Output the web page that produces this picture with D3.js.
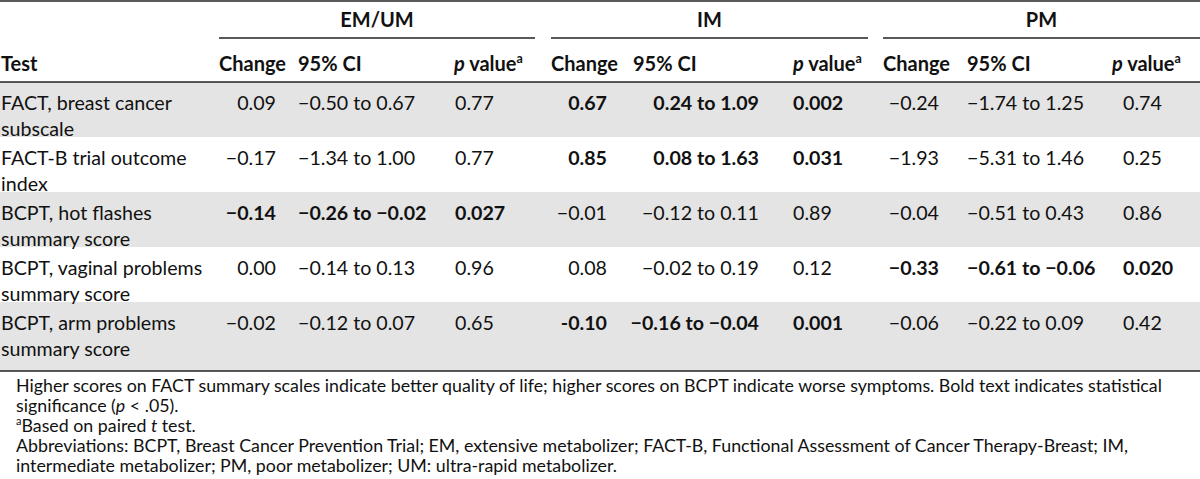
<!DOCTYPE html>
<html>
<head>
<meta charset="utf-8">
<script src="https://cdn.jsdelivr.net/npm/d3@7"></script>
<style>
  html, body { margin: 0; padding: 0; background: #fff; }
  svg { display: block; }
  text { font-family: Lato, "Noto Sans", sans-serif; fill: #111; }
</style>
</head>
<body>
<svg id="chart" width="1200" height="479"></svg>
<script>
// ---------- data ----------
const tests = [
  ["FACT, breast cancer", "subscale"],
  ["FACT-B trial outcome", "index"],
  ["BCPT, hot flashes", "summary score"],
  ["BCPT, vaginal problems", "summary score"],
  ["BCPT, arm problems", "summary score"]
];
const groups = ["EM/UM", "IM", "PM"];
const colHeaders = ["Change", "95% CI", "p value"];

const emChange = ["0.09", "−0.17", "−0.14", "0.00", "−0.02"];
const emCI     = ["−0.50 to 0.67", "−1.34 to 1.00", "−0.26 to −0.02", "−0.14 to 0.13", "−0.12 to 0.07"];
const emP      = ["0.77", "0.77", "0.027", "0.96", "0.65"];
const emBold   = [false, false, true, false, false];

const imChange = ["0.67", "0.85", "−0.01", "0.08", "-0.10"];
const imCI     = ["0.24 to 1.09", "0.08 to 1.63", "−0.12 to 0.11", "−0.02 to 0.19", "−0.16 to −0.04"];
const imP      = ["0.002", "0.031", "0.89", "0.12", "0.001"];
const imBold   = [true, true, false, false, true];

const pmChange = ["−0.24", "−1.93", "−0.04", "−0.33", "−0.06"];
const pmCI     = ["−1.74 to 1.25", "−5.31 to 1.46", "−0.51 to 0.43", "−0.61 to −0.06", "−0.22 to 0.09"];
const pmP      = ["0.74", "0.25", "0.86", "0.020", "0.42"];
const pmBold   = [false, false, false, true, false];

const footnotes = [
  [{t: "Higher scores on FACT summary scales indicate better quality of life; higher scores on BCPT indicate worse symptoms. Bold text indicates statistical"}],
  [{t: "significance ("}, {t: "p", i: true}, {t: " < .05)."}],
  [{t: "a", sup: true}, {t: "Based on paired "}, {t: "t", i: true}, {t: " test."}],
  [{t: "Abbreviations: BCPT, Breast Cancer Prevention Trial; EM, extensive metabolizer; FACT-B, Functional Assessment of Cancer Therapy-Breast; IM,"}],
  [{t: "intermediate metabolizer; PM, poor metabolizer; UM: ultra-rapid metabolizer."}]
];

// ---------- layout ----------
const svg = d3.select("#chart");
const W = 1200;

// calibrate font sizes to the reference text widths
function fitSize(str, weight, target) {
  const t = svg.append("text").attr("font-size", 100).attr("font-weight", weight).text(str);
  const w = t.node().getComputedTextLength();
  t.remove();
  return 100 * target / w;
}
const bodySize = fitSize("FACT, breast cancer", 400, 171);
const headSize = fitSize("Change", 700, 67);
const footSize = fitSize(footnotes[0][0].t, 400, 1147);

// row scale
const rowTops = [82, 137, 192, 247, 302];
const rowBottom = 371;
const y = d3.scaleOrdinal().domain(d3.range(tests.length)).range(rowTops);
const rowEnd = i => (i < tests.length - 1 ? rowTops[i + 1] : rowBottom);

// column spec per group: change (right anchored), CI, p
const groupCols = [
  {name: groups[0], change: emChange, ci: emCI, p: emP, bold: emBold,
   hx: [219, 298, 454], cx: 276, ciX: 298, ciAnchor: "start", pX: 455, line: [219, 535]},
  {name: groups[1], change: imChange, ci: imCI, p: imP, bold: imBold,
   hx: [551, 633, 793], cx: 607, ciX: 759, ciAnchor: "end", pX: 793, line: [551, 868]},
  {name: groups[2], change: pmChange, ci: pmCI, p: pmP, bold: pmBold,
   hx: [883, 967, 1112], cx: 939, ciX: 967, ciAnchor: "start", pX: 1123, line: [883, 1200]}
];

// row backgrounds
svg.selectAll("rect.row").data(tests).join("rect")
  .attr("class", "row")
  .attr("x", 0).attr("width", W)
  .attr("y", (d, i) => y(i))
  .attr("height", (d, i) => rowEnd(i) - y(i))
  .attr("fill", (d, i) => i % 2 === 0 ? "#e4e4e4" : "#ffffff");

// rules
const rule = (x1, x2, yy, w) => svg.append("line")
  .attr("x1", x1).attr("x2", x2).attr("y1", yy).attr("y2", yy)
  .attr("stroke", "#222").attr("stroke-width", w);
rule(0, W, 1, 1.6);
rule(0, W, 82, 1.6);
rule(0, W, rowBottom, 1.6);
groupCols.forEach(g => rule(g.line[0], g.line[1], 38, 1.4));

// group headers
svg.selectAll("text.group").data(groupCols).join("text")
  .attr("class", "group")
  .attr("x", d => (d.line[0] + d.line[1]) / 2)
  .attr("y", 27)
  .attr("text-anchor", "middle")
  .attr("font-weight", 700)
  .attr("font-size", headSize)
  .text(d => d.name);

// column headers
svg.append("text").attr("x", 1).attr("y", 71)
  .attr("font-weight", 700).attr("font-size", headSize).text("Test");
groupCols.forEach(g => {
  svg.append("text").attr("x", g.hx[0]).attr("y", 71)
    .attr("font-weight", 700).attr("font-size", headSize).text(colHeaders[0]);
  svg.append("text").attr("x", g.hx[1]).attr("y", 71)
    .attr("font-weight", 700).attr("font-size", headSize).text(colHeaders[1]);
  const pt = svg.append("text").attr("x", g.hx[2]).attr("y", 71)
    .attr("font-weight", 700).attr("font-size", headSize);
  pt.append("tspan").attr("font-style", "italic").text("p");
  pt.append("tspan").text(colHeaders[2].slice(1));
  pt.append("tspan").attr("font-size", headSize * 0.62).attr("dy", -8).text("a");
});

// test labels
const labels = svg.selectAll("text.label").data(tests).join("text")
  .attr("class", "label")
  .attr("font-size", bodySize);
labels.selectAll("tspan").data((d, i) => d.map(s => ({s, i}))).join("tspan")
  .attr("x", 1)
  .attr("y", (d, k) => y(d.i) + 28 + k * 25.5)
  .text(d => d.s);

// values
groupCols.forEach(g => {
  const base = i => y(i) + 28;
  svg.selectAll(null).data(g.change).join("text")
    .attr("x", g.cx).attr("y", (d, i) => base(i))
    .attr("text-anchor", "end")
    .attr("font-size", bodySize)
    .attr("font-weight", (d, i) => g.bold[i] ? 700 : 400)
    .text(d => d);
  svg.selectAll(null).data(g.ci).join("text")
    .attr("x", g.ciX).attr("y", (d, i) => base(i))
    .attr("text-anchor", g.ciAnchor)
    .attr("font-size", bodySize)
    .attr("font-weight", (d, i) => g.bold[i] ? 700 : 400)
    .text(d => d);
  svg.selectAll(null).data(g.p).join("text")
    .attr("x", g.pX).attr("y", (d, i) => base(i))
    .attr("font-size", bodySize)
    .attr("font-weight", (d, i) => g.bold[i] ? 700 : 400)
    .text(d => d);
});

// footnotes
const fn = svg.selectAll("text.fn").data(footnotes).join("text")
  .attr("class", "fn")
  .attr("x", 16)
  .attr("y", (d, i) => 392 + i * 20)
  .attr("font-size", footSize);
fn.selectAll("tspan").data(d => d).join("tspan")
  .attr("font-style", d => d.i ? "italic" : null)
  .attr("font-size", d => d.sup ? footSize * 0.62 : null)
  .attr("dy", (d, k, nodes) => {
    if (d.sup) return -7;
    const prev = k > 0 ? d3.select(nodes[k - 1]).datum() : null;
    return prev && prev.sup ? 7 : 0;
  })
  .text(d => d.t);
</script>
</body>
</html>
